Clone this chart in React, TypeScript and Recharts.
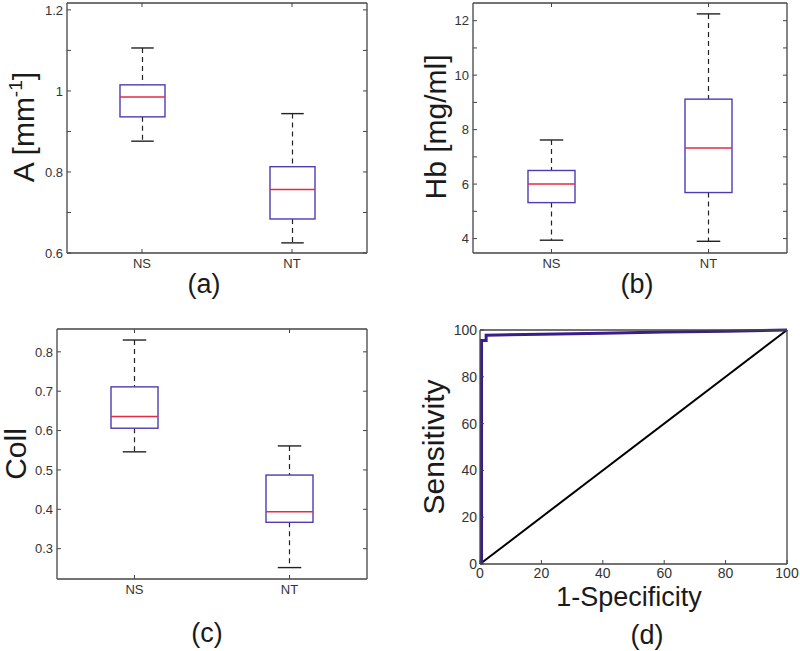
import React from "react";
import {
  Bar,
  ComposedChart,
  Customized,
  Line,
  LineChart,
  XAxis,
  YAxis,
} from "recharts";

// groups on the box-plot x axes
const GROUPS = ["NS", "NT"];

// box stats per group: [lower whisker, q1, median, q3, upper whisker]
const A_NS = [0.876, 0.936, 0.985, 1.015, 1.106];
const A_NT = [0.625, 0.684, 0.757, 0.813, 0.944];
const HB_NS = [3.94, 5.32, 6.0, 6.5, 7.62];
const HB_NT = [3.9, 5.69, 7.33, 9.12, 12.25];
const COLL_NS = [0.546, 0.606, 0.636, 0.711, 0.83];
const COLL_NT = [0.252, 0.367, 0.394, 0.487, 0.561];

// y ticks (all tick marks) and the ones that carry a label
const A_TICKS = [0.6, 0.7, 0.8, 0.9, 1, 1.1, 1.2];
const A_TICK_LABELS = [0.6, 0.8, 1, 1.2];
const HB_TICKS = [4, 5, 6, 7, 8, 9, 10, 11, 12];
const HB_TICK_LABELS = [4, 6, 8, 10, 12];
const COLL_TICKS = [0.3, 0.4, 0.5, 0.6, 0.7, 0.8];

// ROC curve (1-specificity vs sensitivity, %)
const ROC_FPR = [0.5, 0.5, 2, 2, 20, 40, 60, 80, 100];
const ROC_TPR = [0, 95.5, 95.5, 97.8, 98.2, 98.6, 99.1, 99.5, 100];
const CHANCE_FPR = [0, 100];
const CHANCE_TPR = [0, 100];
const ROC_TICKS = [0, 20, 40, 60, 80, 100];

const FRAME = "#444444";
const TICK_LEN = 4;
const TICK_FONT = "'Liberation Sans', Arial, Helvetica, sans-serif";
const LABEL_FONT = "'Liberation Sans', Arial, Helvetica, sans-serif";
const BOX_COLOR = "#4f3bb3";
const MEDIAN_COLOR = "#e62a44";
const ROC_COLOR = "#3b1c8f";

interface TickProps {
  x?: number;
  y?: number;
  payload?: { value: number | string };
  side: "left" | "right" | "top" | "bottom";
  labels?: Array<number | string> | null;
  fontSize?: number;
  gap?: number;
  hide?: boolean;
}

function FrameTick({
  x = 0,
  y = 0,
  payload,
  side,
  labels,
  fontSize = 13,
  gap = 4,
  hide,
}: TickProps): React.ReactElement {
  const value = payload?.value ?? "";
  const show = !hide && (labels == null || labels.includes(value));
  if (side === "left" || side === "right") {
    const dir = side === "left" ? 1 : -1;
    return (
      <g>
        <line x1={x} y1={y} x2={x + dir * TICK_LEN} y2={y} stroke={FRAME} strokeWidth={1} />
        {show ? (
          <text
            x={x - gap}
            y={y}
            dy="0.36em"
            textAnchor="end"
            fill="#333"
            fontSize={fontSize}
            fontFamily={TICK_FONT}
          >
            {String(value)}
          </text>
        ) : null}
      </g>
    );
  }
  const dir = side === "bottom" ? -1 : 1;
  return (
    <g>
      <line x1={x} y1={y} x2={x} y2={y + dir * TICK_LEN} stroke={FRAME} strokeWidth={1} />
      {show ? (
        <text
          x={x}
          y={y + gap}
          textAnchor="middle"
          fill="#333"
          fontSize={fontSize}
          fontFamily={TICK_FONT}
        >
          {String(value)}
        </text>
      ) : null}
    </g>
  );
}

function BoxShape(props: any): React.ReactElement | null {
  const { x, y, width, height, payload } = props;
  if (payload == null || typeof x !== "number") return null;
  const [lo, q1, med, q3, hi] = payload.stats as number[];
  const top = Math.min(y, y + height);
  const h = Math.abs(height);
  const toY = (v: number) => top + ((hi - v) / (hi - lo)) * h;
  const cx = x + width / 2;
  const cap = width / 4;
  return (
    <g>
      <line x1={cx} x2={cx} y1={toY(hi)} y2={toY(q3)} stroke="#222" strokeWidth={1.2} strokeDasharray="5 4" />
      <line x1={cx} x2={cx} y1={toY(q1)} y2={toY(lo)} stroke="#222" strokeWidth={1.2} strokeDasharray="5 4" />
      <line x1={cx - cap} x2={cx + cap} y1={toY(hi)} y2={toY(hi)} stroke="#222" strokeWidth={1.4} />
      <line x1={cx - cap} x2={cx + cap} y1={toY(lo)} y2={toY(lo)} stroke="#222" strokeWidth={1.4} />
      <rect
        x={x}
        y={toY(q3)}
        width={width}
        height={toY(q1) - toY(q3)}
        fill="none"
        stroke={BOX_COLOR}
        strokeWidth={1.4}
      />
      <line x1={x} x2={x + width} y1={toY(med)} y2={toY(med)} stroke={MEDIAN_COLOR} strokeWidth={1.5} />
    </g>
  );
}

// the frame axes take 1px each, so the margins are the plot edges minus one
function frameMargin(m: { top: number; right: number; bottom: number; left: number }) {
  return { top: m.top - 1, right: m.right - 1, bottom: m.bottom - 1, left: m.left - 1 };
}

interface BoxPanelProps {
  left: number;
  top: number;
  width: number;
  height: number;
  margin: { top: number; right: number; bottom: number; left: number };
  ns: number[];
  nt: number[];
  domain: [number, number];
  ticks: number[];
  tickLabels?: number[] | null;
  boxWidth: number;
  overlay: React.ReactElement;
}

function BoxPanel({
  left,
  top,
  width,
  height,
  margin,
  ns,
  nt,
  domain,
  ticks,
  tickLabels = null,
  boxWidth,
  overlay,
}: BoxPanelProps): React.ReactElement {
  const stats = [ns, nt];
  const data = GROUPS.map((name, i) => ({
    name,
    stats: stats[i],
    range: [stats[i][0], stats[i][4]],
  }));
  const axisLine = { stroke: FRAME, strokeWidth: 1.3 };
  return (
    <div style={{ position: "absolute", left, top, width, height }}>
      <ComposedChart width={width} height={height} data={data} margin={frameMargin(margin)}>
        <XAxis
          dataKey="name"
          height={1}
          axisLine={axisLine}
          tickLine={false}
          tickSize={0}
          tickMargin={0}
          interval={0}
          tick={(p: any) => <FrameTick {...p} side="bottom" fontSize={13} gap={15} />}
        />
        <XAxis
          xAxisId="top"
          orientation="top"
          dataKey="name"
          height={1}
          axisLine={axisLine}
          tickLine={false}
          tickSize={0}
          tickMargin={0}
          interval={0}
          tick={(p: any) => <FrameTick {...p} side="top" hide />}
        />
        <YAxis
          type="number"
          width={1}
          domain={domain}
          ticks={ticks}
          allowDataOverflow
          axisLine={axisLine}
          tickLine={false}
          tickSize={0}
          tickMargin={0}
          interval={0}
          tick={(p: any) => (
            <FrameTick {...p} side="left" labels={tickLabels} fontSize={13} gap={4} />
          )}
        />
        <YAxis
          yAxisId="right"
          orientation="right"
          type="number"
          width={1}
          domain={domain}
          ticks={ticks}
          allowDataOverflow
          axisLine={axisLine}
          tickLine={false}
          tickSize={0}
          tickMargin={0}
          interval={0}
          tick={(p: any) => <FrameTick {...p} side="right" hide />}
        />
        <Bar dataKey="range" barSize={boxWidth} shape={<BoxShape />} isAnimationActive={false} />
        <Customized component={overlay} />
      </ComposedChart>
    </div>
  );
}

function RotatedLabel({
  x,
  y,
  size = 30,
  children,
}: {
  x: number;
  y: number;
  size?: number;
  children: React.ReactNode;
}): React.ReactElement {
  return (
    <text
      transform={`translate(${x} ${y}) rotate(-90)`}
      textAnchor="middle"
      fill="#1a1a1a"
      fontSize={size}
      fontFamily={LABEL_FONT}
    >
      {children}
    </text>
  );
}

function PanelLetter({ x, y, text }: { x: number; y: number; text: string }): React.ReactElement {
  return (
    <text x={x} y={y} textAnchor="middle" fill="#1a1a1a" fontSize={27} fontFamily={LABEL_FONT}>
      {text}
    </text>
  );
}

function OverlayA(): React.ReactElement {
  return (
    <g>
      <RotatedLabel x={34} y={127}>
        A [mm
        <tspan dy={-12} fontSize={19}>
          -1
        </tspan>
        <tspan dy={12}>]</tspan>
      </RotatedLabel>
      <PanelLetter x={204} y={293} text="(a)" />
    </g>
  );
}

function OverlayB(): React.ReactElement {
  return (
    <g>
      <RotatedLabel x={46} y={127}>
        Hb [mg/ml]
      </RotatedLabel>
      <PanelLetter x={237} y={293} text="(b)" />
    </g>
  );
}

function OverlayC(): React.ReactElement {
  return (
    <g>
      <RotatedLabel x={26} y={144}>
        Coll
      </RotatedLabel>
      <PanelLetter x={207} y={332} text="(c)" />
    </g>
  );
}

function OverlayD(): React.ReactElement {
  return (
    <g>
      <RotatedLabel x={44} y={137}>
        Sensitivity
      </RotatedLabel>
      <text x={229} y={296} textAnchor="middle" fill="#1a1a1a" fontSize={27} fontFamily={LABEL_FONT}>
        1-Specificity
      </text>
      <PanelLetter x={247} y={334} text="(d)" />
    </g>
  );
}

function RocPanel(): React.ReactElement {
  const rocData = ROC_FPR.map((fpr, i) => ({ x: fpr, y: ROC_TPR[i] }));
  const chanceData = CHANCE_FPR.map((fpr, i) => ({ x: fpr, y: CHANCE_TPR[i] }));
  const axisLine = { stroke: FRAME, strokeWidth: 1.3 };
  const width = 400;
  const height = 341;
  return (
    <div style={{ position: "absolute", left: 400, top: 310, width, height }}>
      <LineChart
        width={width}
        height={height}
        margin={frameMargin({ top: 20, right: 13, bottom: 87, left: 80 })}
      >
        <XAxis
          type="number"
          dataKey="x"
          height={1}
          domain={[0, 100]}
          ticks={ROC_TICKS}
          axisLine={axisLine}
          tickLine={false}
          tickSize={0}
          tickMargin={0}
          interval={0}
          tick={(p: any) => <FrameTick {...p} side="bottom" fontSize={14} gap={14} />}
        />
        <XAxis
          xAxisId="top"
          orientation="top"
          type="number"
          dataKey="x"
          height={1}
          domain={[0, 100]}
          ticks={ROC_TICKS}
          axisLine={axisLine}
          tickLine={false}
          tickSize={0}
          tickMargin={0}
          interval={0}
          tick={(p: any) => <FrameTick {...p} side="top" hide />}
        />
        <YAxis
          type="number"
          width={1}
          domain={[0, 100]}
          ticks={ROC_TICKS}
          axisLine={axisLine}
          tickLine={false}
          tickSize={0}
          tickMargin={0}
          interval={0}
          tick={(p: any) => <FrameTick {...p} side="left" fontSize={14} gap={3} />}
        />
        <YAxis
          yAxisId="right"
          orientation="right"
          type="number"
          width={1}
          domain={[0, 100]}
          ticks={ROC_TICKS}
          axisLine={axisLine}
          tickLine={false}
          tickSize={0}
          tickMargin={0}
          interval={0}
          tick={(p: any) => <FrameTick {...p} side="right" hide />}
        />
        <Line
          data={chanceData}
          dataKey="y"
          type="linear"
          stroke="#000"
          strokeWidth={2}
          dot={false}
          activeDot={false}
          isAnimationActive={false}
        />
        <Line
          data={rocData}
          dataKey="y"
          type="linear"
          stroke={ROC_COLOR}
          strokeWidth={3}
          dot={false}
          activeDot={false}
          isAnimationActive={false}
        />
        <Customized component={<OverlayD />} />
      </LineChart>
    </div>
  );
}

export default function App(): React.ReactElement {
  return (
    <div
      style={{
        position: "absolute",
        left: 0,
        top: 0,
        width: 800,
        height: 651,
        background: "#ffffff",
        overflow: "hidden",
      }}
    >
      <BoxPanel
        left={0}
        top={0}
        width={400}
        height={310}
        margin={{ top: 3, right: 33, bottom: 57, left: 67 }}
        ns={A_NS}
        nt={A_NT}
        domain={[0.6, 1.217]}
        ticks={A_TICKS}
        tickLabels={A_TICK_LABELS}
        boxWidth={45}
        overlay={<OverlayA />}
      />
      <BoxPanel
        left={400}
        top={0}
        width={400}
        height={310}
        margin={{ top: 3, right: 13, bottom: 57, left: 73 }}
        ns={HB_NS}
        nt={HB_NT}
        domain={[3.47, 12.65]}
        ticks={HB_TICKS}
        tickLabels={HB_TICK_LABELS}
        boxWidth={47}
        overlay={<OverlayB />}
      />
      <BoxPanel
        left={0}
        top={310}
        width={400}
        height={341}
        margin={{ top: 19, right: 33, bottom: 72, left: 57 }}
        ns={COLL_NS}
        nt={COLL_NT}
        domain={[0.223, 0.858]}
        ticks={COLL_TICKS}
        tickLabels={null}
        boxWidth={47}
        overlay={<OverlayC />}
      />
      <RocPanel />
    </div>
  );
}
